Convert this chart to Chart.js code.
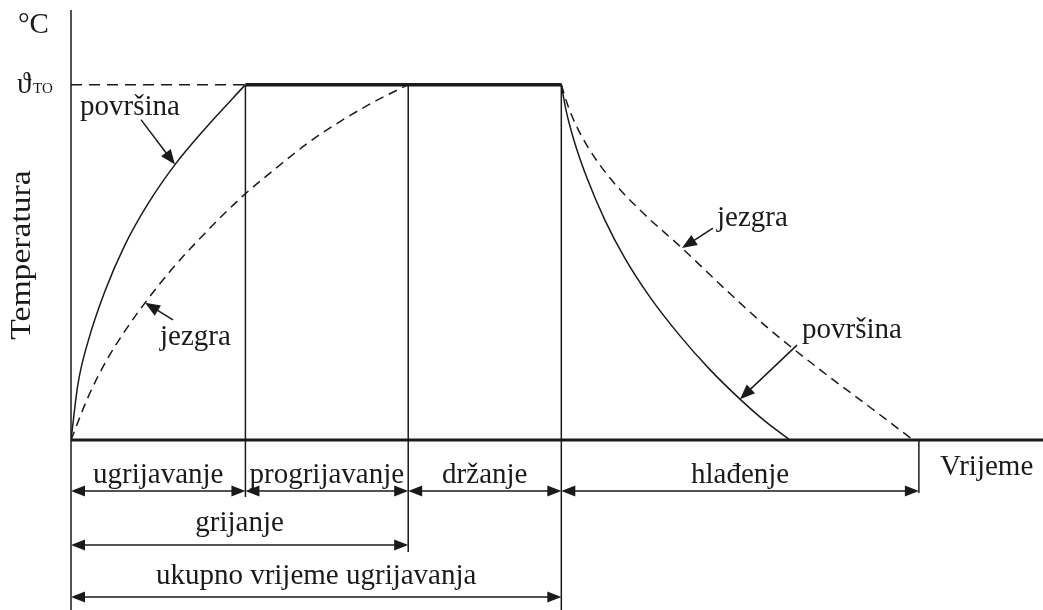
<!DOCTYPE html>
<html>
<head>
<meta charset="utf-8">
<script src="https://cdn.jsdelivr.net/npm/chart.js@4.4.1/dist/chart.umd.min.js"></script>
<style>
  html, body { margin: 0; padding: 0; background: #fff; }
</style>
</head>
<body>
<canvas id="chart" width="1043" height="610"></canvas>
<script>
// time axis runs 0..100, temperature axis 0..121 (holding temperature = 100)
const phaseTimes = [0, 18, 34.8, 50.6, 87.5];
const phaseLabels = ['ugrijavanje', 'progrijavanje', 'držanje', 'hlađenje'];
const heatingEnd = 34.8;   // "grijanje"
const totalEnd = 50.6;     // "ukupno vrijeme ugrijavanja"
const tempTO = 100;

// heating: surface (solid) and core (dashed)
const heatSurfaceT = [0, 0.72, 1.75, 3.51, 5.57, 7.95, 10.73, 13.83, 18];
const heatSurfaceY = [0, 15.8, 27.6, 41.9, 54.9, 66.5, 77.5, 87.6, 100];
const heatCoreT = [0, 1.75, 3.61, 5.57, 7.64, 10.42, 13.83, 17.75, 20.85, 24.36, 27.76, 31.17, 34.8];
const heatCoreY = [0, 12.0, 22.1, 30.7, 38.6, 48.1, 58.2, 68.7, 75.8, 83.4, 89.6, 95.0, 100];

// cooling: surface (solid) and core (dashed)
const coolSurfaceT = [50.6, 51.08, 51.91, 53.25, 55.11, 57.17, 59.75, 62.85, 65.94, 69.04, 71.62, 74.2];
const coolSurfaceY = [100, 92.9, 84.3, 73.7, 61.8, 51.1, 40.2, 29.3, 19.8, 11.5, 5.3, 0];
const coolCoreT = [50.6, 51.29, 52.12, 53.35, 55.62, 58.72, 63.05, 67.49, 71.93, 77.29, 82.66, 86.9];
const coolCoreY = [100, 94.0, 88.6, 82.4, 73.7, 64.7, 54.0, 42.5, 31.5, 19.8, 8.8, 0];

// callout labels pointing at the curves (tip = point on the curve)
const callouts = [
  { text: 'površina', tip: [10.73, 77.5], tail: [-34, -45], label: [-95, -50] },
  { text: 'jezgra', tip: [7.64, 38.6], tail: [28, 17], label: [15, 42] },
  { text: 'jezgra', tip: [63.05, 54.0], tail: [31, -20], label: [35, -22] },
  { text: 'površina', tip: [69.04, 11.5], tail: [57, -54], label: [62, -61] }
];

const INK = '#1a1a1a';
const FONT = '"Liberation Serif", "Times New Roman", serif';

function pts(xs, ys) {
  return xs.map((x, i) => ({ x: x, y: ys[i] }));
}

function arrowHead(ctx, x, y, angle, len, half) {
  ctx.save();
  ctx.translate(x, y);
  ctx.rotate(angle);
  ctx.beginPath();
  ctx.moveTo(0, 0);
  ctx.lineTo(-len, -half);
  ctx.lineTo(-len, half);
  ctx.closePath();
  ctx.fill();
  ctx.restore();
}

// double arrow with a centred label above it
function spanArrow(ctx, x1, x2, y, text, baseline) {
  ctx.lineWidth = 1.5;
  ctx.beginPath();
  ctx.moveTo(x1 + 4, y);
  ctx.lineTo(x2 - 4, y);
  ctx.stroke();
  arrowHead(ctx, x1, y, Math.PI, 14, 5.5);
  arrowHead(ctx, x2, y, 0, 14, 5.5);
  ctx.textAlign = 'center';
  ctx.fillText(text, (x1 + x2) / 2, baseline);
}

function vline(ctx, x, y1, y2, w) {
  ctx.lineWidth = w;
  ctx.beginPath();
  ctx.moveTo(x, y1);
  ctx.lineTo(x, y2);
  ctx.stroke();
}

const diagram = {
  id: 'diagram',
  afterDatasetsDraw(chart) {
    const ctx = chart.ctx;
    const xs = chart.scales.x, ys = chart.scales.y;
    const area = chart.chartArea;
    const px = t => xs.getPixelForValue(t);
    const yTO = ys.getPixelForValue(tempTO);
    const base = ys.getPixelForValue(0);
    const H = chart.height;

    ctx.save();
    ctx.strokeStyle = INK;
    ctx.fillStyle = INK;
    ctx.lineCap = 'butt';

    // axes
    vline(ctx, area.left, area.top, H, 1.5);
    ctx.lineWidth = 3;
    ctx.beginPath();
    ctx.moveTo(area.left, base);
    ctx.lineTo(chart.width, base);
    ctx.stroke();

    // phase separators
    const row1 = base + 51, row2 = base + 105, row3 = base + 157;
    vline(ctx, px(phaseTimes[1]), yTO, row1 + 6, 1.5);
    vline(ctx, px(phaseTimes[2]), yTO, row2 + 7, 1.5);
    vline(ctx, px(phaseTimes[3]), yTO - 1, H, 1.5);
    vline(ctx, px(phaseTimes[4]), base, row1 + 2, 1.5);

    // span arrows
    ctx.font = '29px ' + FONT;
    ctx.textBaseline = 'alphabetic';
    for (let i = 0; i < phaseLabels.length; i++) {
      spanArrow(ctx, px(phaseTimes[i]), px(phaseTimes[i + 1]), row1, phaseLabels[i], row1 - 8);
    }
    spanArrow(ctx, px(0), px(heatingEnd), row2, 'grijanje', row2 - 14);
    spanArrow(ctx, px(0), px(totalEnd), row3, 'ukupno vrijeme ugrijavanja', row3 - 13);

    // callouts
    ctx.textAlign = 'left';
    callouts.forEach(c => {
      const tx = px(c.tip[0]), ty = ys.getPixelForValue(c.tip[1]);
      const sx = tx + c.tail[0], sy = ty + c.tail[1];
      const ang = Math.atan2(ty - sy, tx - sx);
      ctx.lineWidth = 1.5;
      ctx.beginPath();
      ctx.moveTo(sx, sy);
      ctx.lineTo(tx - Math.cos(ang) * 8, ty - Math.sin(ang) * 8);
      ctx.stroke();
      arrowHead(ctx, tx, ty, ang, 15, 6);
      ctx.fillText(c.text, tx + c.label[0], ty + c.label[1]);
    });

    // axis texts
    ctx.fillText('Vrijeme', 940, base + 35);
    ctx.fillText('°C', 18, 33);
    ctx.fillText('ϑ', 17, yTO + 8);
    ctx.font = '15px ' + FONT;
    ctx.fillText('TO', 33, yTO + 8);

    ctx.font = '29px ' + FONT;
    ctx.translate(30, (area.top + base) / 2 + 30);
    ctx.rotate(-Math.PI / 2);
    ctx.scale(1.16, 1);
    ctx.textAlign = 'center';
    ctx.fillText('Temperatura', 0, 0);
    ctx.restore();
  }
};

const lineStyle = {
  borderColor: INK,
  borderWidth: 1.5,
  pointRadius: 0,
  fill: false,
  cubicInterpolationMode: 'monotone'
};

new Chart(document.getElementById('chart'), {
  type: 'line',
  data: {
    datasets: [
      Object.assign({ label: 'površina (grijanje)', data: pts(heatSurfaceT, heatSurfaceY) }, lineStyle),
      Object.assign({ label: 'jezgra (grijanje)', data: pts(heatCoreT, heatCoreY), borderDash: [9, 6] }, lineStyle),
      Object.assign({ label: 'površina (hlađenje)', data: pts(coolSurfaceT, coolSurfaceY) }, lineStyle),
      Object.assign({ label: 'jezgra (hlađenje)', data: pts(coolCoreT, coolCoreY), borderDash: [9, 6] }, lineStyle),
      Object.assign({}, lineStyle, { label: 'ϑTO', data: pts([0, phaseTimes[1]], [tempTO, tempTO]), borderDash: [11, 7], borderWidth: 1.5 }),
      Object.assign({}, lineStyle, { label: 'ϑTO držanje', data: pts([phaseTimes[1], phaseTimes[3]], [tempTO, tempTO]), borderWidth: 3.5 })
    ]
  },
  options: {
    responsive: false,
    animation: false,
    layout: { padding: { left: 71, right: 3, top: 10, bottom: 170 } },
    scales: {
      x: { type: 'linear', min: 0, max: 100, display: false },
      y: { type: 'linear', min: 0, max: 121, display: false }
    },
    plugins: { legend: { display: false }, tooltip: { enabled: false } }
  },
  plugins: [diagram]
});
</script>
</body>
</html>
